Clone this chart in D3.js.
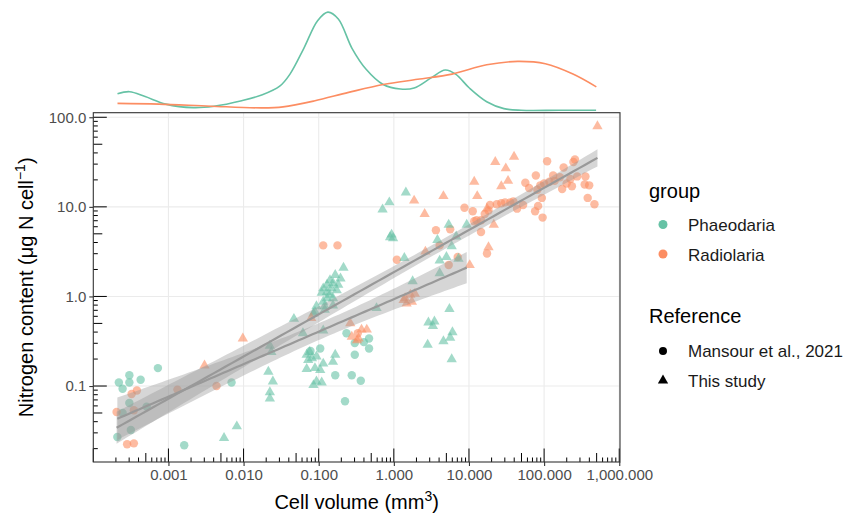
<!DOCTYPE html>
<html>
<head>
<meta charset="utf-8">
<script src="https://cdn.jsdelivr.net/npm/d3@7"></script>
<style>
body{margin:0;background:#fff}
text{font-family:"Liberation Sans",Arial,sans-serif}
</style>
</head>
<body>
<svg width="844" height="515"></svg>
<script>
// values, as [log10 cell volume (mm3), log10 N content (ug N/cell)]
const phaeoMansour = [[-3.66,-0.96],[-3.52,-0.88],[-3.52,-0.96],[-3.61,-1.03],[-3.37,-0.93],[-3.14,-0.80],[-3.52,-1.19],[-3.61,-1.30],[-3.29,-1.23],[-3.50,-1.49],[-3.68,-1.57],[-2.79,-1.66],[-2.16,-0.96],
  [-0.98,-0.58],[-0.63,-0.41],[-0.52,-0.52],[-0.52,-0.65],[-0.78,-0.88],[-0.56,-0.88],[-0.65,-1.17],[-0.44,-0.94],[-1.11,-0.61],[-0.33,-0.47],[-0.40,-0.51],[-0.33,-0.58]];
const phaeoThis = [[-2.26,-1.58],[-2.09,-1.45],[-1.65,-0.55],[-1.63,-0.62],[-1.67,-0.84],[-1.61,-0.95],[-1.65,-1.07],[-1.65,-1.14],
  [-1.33,-0.25],[-1.05,-0.17],[-0.92,-0.15],[-0.94,-0.38],[-1.21,-0.41],[-1.12,-0.62],[-1.03,-0.67],[-1.14,-0.71],[-0.94,-0.75],[-1.05,-0.80],[-1.16,-0.81],[-0.98,-0.82],[-0.78,-0.65],[-0.81,-0.73],[-1.03,-0.95],[-0.96,-0.96],[-1.07,-0.99],[-1.07,-0.19],[-0.23,-0.13],[-1.16,-0.65],[-1.09,-0.69],
  [-0.78,0.24],[-0.71,0.20],[-0.85,0.18],[-0.81,0.15],[-0.74,0.13],[-0.89,0.13],[-0.94,0.09],[-0.83,0.09],[-0.76,0.07],[-0.89,0.05],[-0.96,0.04],[-0.85,0.02],[-0.81,-0.02],[-0.89,-0.02],[-0.94,-0.06],[-1.03,-0.11],[-0.81,-0.10],[-0.92,-0.11],[-0.67,0.32],
  [0.16,1.16],[-0.06,1.05],[-0.15,0.97],[-0.03,0.69],[-0.05,0.66],[-0.01,0.65],[0.14,0.43],[0.25,0.17],
  [0.74,-0.14],[0.46,-0.29],[0.54,-0.28],[0.52,-0.33],[0.78,-0.40],[0.75,-0.46],[0.66,-0.50],[0.45,-0.54],[0.77,-0.70],
  [0.73,0.80],[0.97,0.80],[0.83,0.67],[0.58,0.63],[0.77,0.56],[0.70,0.44],[0.61,0.40],[0.86,0.42],[0.61,0.26]];
const radioMansour = [[-3.42,-1.05],[-3.49,-1.09],[-3.46,-1.27],[-3.69,-1.29],[-3.55,-1.65],[-3.46,-1.64],[-2.88,-1.04],[-2.36,-1.00],
  [-0.94,0.57],[-0.75,0.57],[-0.48,-0.41],[0.04,0.41],[0.56,0.74],[0.75,0.75],[0.85,0.44],[0.73,0.35],[1.24,0.48],[0.61,0.57],
  [0.94,0.99],[1.05,0.95],[1.07,0.84],[1.16,0.72],[1.10,0.85],[1.16,0.85],[1.21,0.92],[1.26,0.96],[1.28,1.02],[1.37,1.03],[1.43,1.04],[1.48,1.05],[1.55,1.05],[1.59,1.06],[1.64,0.98],[1.72,1.02],
  [1.75,1.27],[1.80,1.21],[1.89,1.35],[1.95,1.24],[2.00,1.26],[2.07,1.28],[2.14,1.29],[2.04,1.51],[2.41,1.53],[2.39,1.50],[2.26,1.44],[2.12,1.35],[2.21,1.33],[2.35,1.31],[2.30,1.26],[2.44,1.34],[2.54,1.25],[2.60,1.24],[2.55,1.34],[2.24,1.20],[2.37,1.23],[1.91,1.19],[1.97,1.10],[2.58,1.10],[2.67,1.03],[1.88,0.95],[1.92,1.01],[1.98,0.88]];
const radioThis = [[-2.52,-0.77],[-2.01,-0.47],[-1.10,-0.24],[-0.56,-0.45],[-0.49,-0.49],[-0.58,-0.30],[-0.43,-0.37],[-0.36,-0.37],[-0.47,-0.47],
  [0.15,-0.02],[0.22,0.02],[0.28,0.03],[0.17,-0.08],[0.24,-0.06],[0.13,-0.04],
  [0.27,1.07],[0.41,0.92],[0.42,0.50],[0.66,1.12],[1.07,1.28],[1.11,1.12],[1.35,1.50],[1.49,1.43],[1.60,1.56],[1.52,1.29],[1.43,1.23],[1.33,0.80],[1.26,0.55],[1.01,0.35],[1.24,0.98],[2.71,1.90]];

// marginal densities (of log10 volume)
const phaeoDensX = [-3.678,-3.517,-3.310,-3.035,-2.668,-2.394,-2.025,-1.750,-1.519,-1.382,-1.198,-1.015,-0.878,-0.739,-0.557,-0.372,-0.142,0.087,0.270,0.501,0.684,0.822,1.005,1.236,1.465,1.694,2.2,2.692];
const phaeoDens  = [0.165,0.186,0.137,0.062,0.027,0.041,0.096,0.155,0.241,0.362,0.620,0.896,0.982,0.913,0.620,0.413,0.258,0.213,0.223,0.327,0.403,0.362,0.223,0.086,0.017,0,0,0];
const radioDensX = [-3.678,-3.126,-2.438,-1.750,-1.475,-1.061,-0.602,-0.142,0.317,0.775,1.236,1.648,2.016,2.384,2.695];
const radioDens  = [0.069,0.062,0.041,0.024,0.034,0.093,0.179,0.258,0.310,0.362,0.455,0.489,0.465,0.362,0.234];

const groups = ['Phaeodaria','Radiolaria'];
const refs = ['Mansour et al., 2021','This study'];
const xTicks = [0.001,0.01,0.1,1,10,100,1000];
const yTicks = [0.1,1,10,100];

const colors = {Phaeodaria:'#66C2A5', Radiolaria:'#FC8D62'};
const svg = d3.select('svg');
const P = {left:93.3, right:620, top:112.7, bottom:462};

const x = d3.scaleLog().domain([10 ** -4.0, 10 ** 3.01]).range([P.left, P.right]);
const y = d3.scaleLog().domain([10 ** -1.848, 10 ** 2.051]).range([P.bottom, P.top]);
const yDens = d3.scaleLinear().domain([0, 1]).range([110.3, 10.3]);

const toPts = (arr, group, ref) => arr.map(d => ({v: 10 ** d[0], n: 10 ** d[1], group, ref}));
const points = [].concat(
  toPts(phaeoMansour, 'Phaeodaria', refs[0]),
  toPts(radioMansour, 'Radiolaria', refs[0]),
  toPts(phaeoThis, 'Phaeodaria', refs[1]),
  toPts(radioThis, 'Radiolaria', refs[1]));

/* top density strip */
const densLine = d3.line().x(d => x(10 ** d[0])).y(d => yDens(d[1])).curve(d3.curveCatmullRom);
svg.append('path').datum(phaeoDensX.map((v, i) => [v, phaeoDens[i]]))
  .attr('d', densLine).attr('fill', 'none').attr('stroke', colors.Phaeodaria).attr('stroke-width', 1.6);
svg.append('path').datum(radioDensX.map((v, i) => [v, radioDens[i]]))
  .attr('d', densLine).attr('fill', 'none').attr('stroke', colors.Radiolaria).attr('stroke-width', 1.6);

/* grid */
const grid = svg.append('g');
grid.selectAll('.gx').data(xTicks).enter().append('line')
  .attr('x1', d => x(d)).attr('x2', d => x(d)).attr('y1', P.top).attr('y2', P.bottom)
  .attr('stroke', '#EBEBEB').attr('stroke-width', 1.1);
grid.selectAll('.gy').data(yTicks).enter().append('line')
  .attr('y1', d => y(d)).attr('y2', d => y(d)).attr('x1', P.left).attr('x2', P.right)
  .attr('stroke', '#EBEBEB').attr('stroke-width', 1.1);

/* points */
const tri = d3.symbol().type(d3.symbolTriangle).size(46);
const plot = svg.append('g');
plot.selectAll('.pt').data(points).enter().append('path')
  .attr('transform', d => `translate(${x(d.v)},${y(d.n)})`)
  .attr('d', d => d.ref === refs[0] ? d3.symbol().type(d3.symbolCircle).size(56)() : tri())
  .attr('fill', d => colors[d.group]).attr('fill-opacity', 0.6);

/* lm fits in log-log space with 95% band */
function fit(data) {
  const n = data.length;
  const mx = d3.mean(data, d => d[0]), my = d3.mean(data, d => d[1]);
  const sxx = d3.sum(data, d => (d[0] - mx) ** 2);
  const sxy = d3.sum(data, d => (d[0] - mx) * (d[1] - my));
  const b = sxy / sxx, a = my - b * mx;
  const s = Math.sqrt(d3.sum(data, d => (d[1] - a - b * d[0]) ** 2) / (n - 2));
  const [lo, hi] = d3.extent(data, d => d[0]);
  return d3.range(80).map(i => {
    const xv = lo + (hi - lo) * i / 79;
    const se = s * Math.sqrt(1 / n + (xv - mx) ** 2 / sxx);
    const yv = a + b * xv;
    return {x: xv, y: yv, lo: yv - 1.98 * se, hi: yv + 1.98 * se};
  });
}
const fits = [fit(phaeoMansour.concat(phaeoThis)), fit(radioMansour.concat(radioThis))];
const band = d3.area().x(d => x(10 ** d.x)).y0(d => y(10 ** d.lo)).y1(d => y(10 ** d.hi));
const fline = d3.line().x(d => x(10 ** d.x)).y(d => y(10 ** d.y));
fits.forEach(f => {
  svg.append('path').datum(f).attr('d', band).attr('fill', '#999999').attr('fill-opacity', 0.4);
});
fits.forEach(f => {
  svg.append('path').datum(f).attr('d', fline).attr('fill', 'none').attr('stroke', '#999999').attr('stroke-width', 2.2);
});

/* log ticks inside the panel */
const minor = [];
for (let e = -4; e <= 3; e++) for (let k = 1; k <= 9; k++) minor.push({v: k * 10 ** e, k});
const len = k => k === 1 ? 13.5 : (k === 5 ? 9 : 4.5);
const xr = x.domain(), yr = y.domain();
svg.append('g').selectAll('line').data(minor.filter(d => d.v >= xr[0] && d.v <= xr[1])).enter().append('line')
  .attr('x1', d => x(d.v)).attr('x2', d => x(d.v)).attr('y1', P.bottom).attr('y2', d => P.bottom - len(d.k))
  .attr('stroke', '#000').attr('stroke-width', 1);
svg.append('g').selectAll('line').data(minor.filter(d => d.v >= yr[0] && d.v <= yr[1])).enter().append('line')
  .attr('y1', d => y(d.v)).attr('y2', d => y(d.v)).attr('x1', P.left).attr('x2', d => P.left + len(d.k))
  .attr('stroke', '#000').attr('stroke-width', 1);

/* panel border */
svg.append('rect').attr('x', P.left).attr('y', P.top).attr('width', P.right - P.left).attr('height', P.bottom - P.top)
  .attr('fill', 'none').attr('stroke', '#333333').attr('stroke-width', 1.1);

/* axes */
const xAxis = d3.axisBottom(x).tickValues(xTicks).tickFormat(d3.format(',.3f')).tickSizeInner(4).tickSizeOuter(0).tickPadding(3);
const gx = svg.append('g').attr('transform', `translate(0,${P.bottom})`).call(xAxis);
const yAxis = d3.axisLeft(y).tickValues(yTicks).tickFormat(d3.format('.1f')).tickSizeInner(4).tickSizeOuter(0).tickPadding(3);
const gy = svg.append('g').attr('transform', `translate(${P.left},0)`).call(yAxis);
[gx, gy].forEach(g => {
  g.select('.domain').remove();
  g.selectAll('line').attr('stroke', '#333333').attr('stroke-width', 1.1);
  g.selectAll('text').attr('fill', '#4D4D4D').style('font-size', '15px').style('font-family', '"Liberation Sans",Arial,sans-serif');
});

/* axis titles */
const xt = svg.append('text').attr('x', (P.left + P.right) / 2).attr('y', 509)
  .attr('text-anchor', 'middle').style('font-size', '20px');
xt.append('tspan').text('Cell volume (mm');
xt.append('tspan').attr('dy', -8).style('font-size', '14px').text('3');
xt.append('tspan').attr('dy', 8).text(')');

const yt = svg.append('text').attr('transform', `translate(33,${(P.top + P.bottom) / 2}) rotate(-90)`)
  .attr('text-anchor', 'middle').style('font-size', '20px');
yt.append('tspan').text('Nitrogen content (\u03bcg N cell');
yt.append('tspan').attr('dy', -8).style('font-size', '14px').text('\u22121');
yt.append('tspan').attr('dy', 8).text(')');

/* legends */
const lg = svg.append('g');
lg.append('text').attr('x', 649).attr('y', 198).style('font-size', '20px').text('group');
groups.forEach((g, i) => {
  lg.append('circle').attr('cx', 663).attr('cy', 224.5 + i * 29.5).attr('r', 4.5).attr('fill', colors[g]);
  lg.append('text').attr('x', 688).attr('y', 231 + i * 29.5).style('font-size', '17px').attr('fill', '#1a1a1a').text(g);
});
lg.append('text').attr('x', 649).attr('y', 323).style('font-size', '20px').text('Reference');
refs.forEach((r, i) => {
  const sym = i === 0 ? d3.symbol().type(d3.symbolCircle).size(50)() : d3.symbol().type(d3.symbolTriangle).size(46)();
  lg.append('path').attr('transform', `translate(663,${351 + i * 29.5})`).attr('d', sym).attr('fill', '#000');
  lg.append('text').attr('x', 688).attr('y', 357 + i * 29.5).style('font-size', '17px').attr('fill', '#1a1a1a').text(r);
});
</script>
</body>
</html>
